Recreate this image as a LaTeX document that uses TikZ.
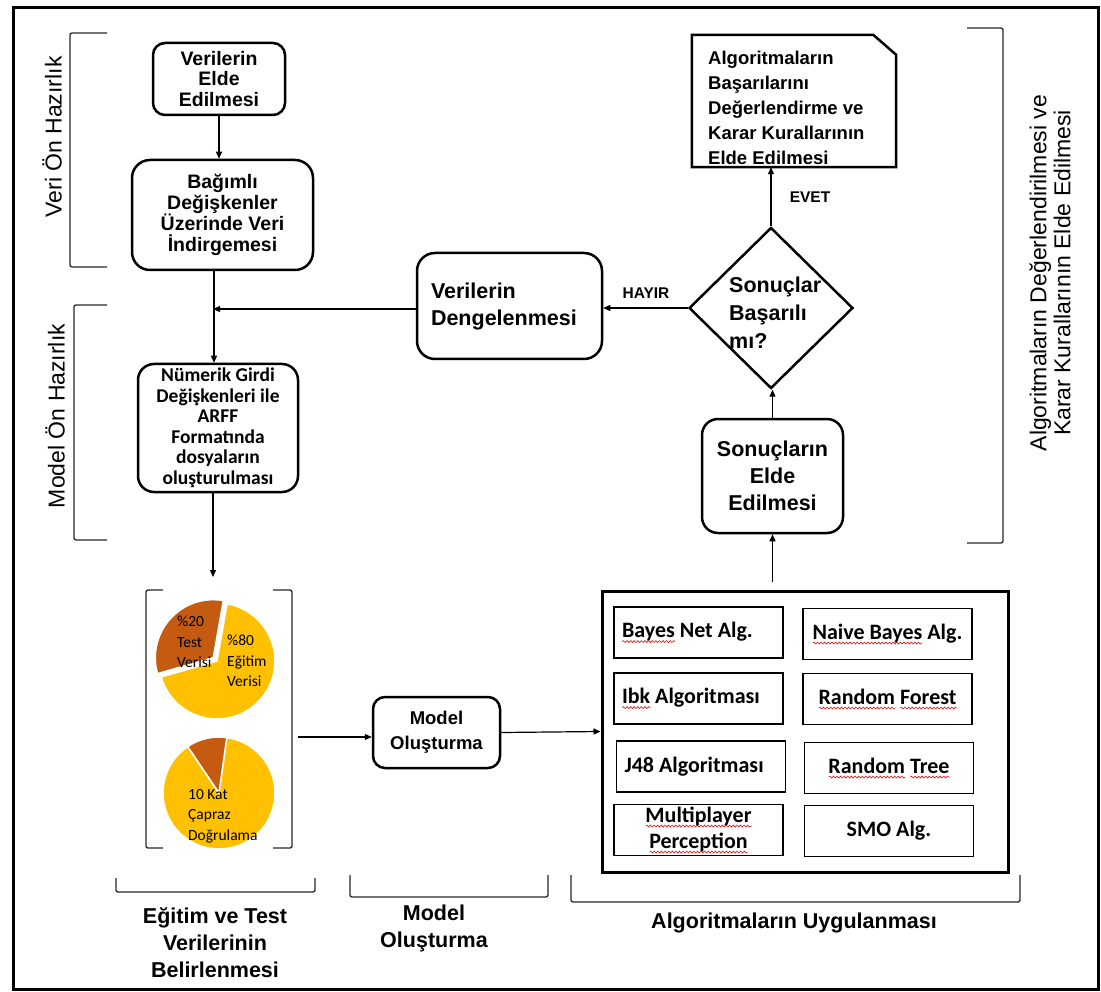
\documentclass[tikz,border=0pt]{standalone}
\usepackage{fontspec}
\setmainfont{Liberation Sans}
\newfontfamily\calfont{Carlito}
\usetikzlibrary{arrows.meta,shapes.geometric,decorations.pathmorphing}

% red spell-check squiggle under a word
\newlength\sqlen
\newcommand\squig[1]{\settowidth\sqlen{#1}\rlap{#1}\rlap{\tikz[baseline=0pt]\draw[red!85!black,line width=0.55pt,decorate,decoration={snake,amplitude=1pt,segment length=3.6pt}] (0pt,-4pt) -- (\sqlen,-4pt);}\kern\sqlen}

\definecolor{piebrown}{HTML}{C55A11}
\definecolor{pieyellow}{HTML}{FFC000}

\tikzset{
  rbox/.style={draw, line width=2.5pt, rounded corners=14pt, align=center, inner sep=2pt},
  arr/.style={-{Triangle[length=7pt,width=6pt]}, line width=1.2pt},
  brk/.style={line width=1.3pt, black!85, rounded corners=2pt},
  cell/.style={draw, line width=1.6pt, minimum width=169, minimum height=51, inner sep=0pt,
    font=\calfont\bfseries\fontsize{22}{26}\selectfont, align=center},
  lcell/.style={cell, text width=153, inner xsep=8pt, align=flush left},
  fBox/.style={font=\bfseries\fontsize{19.5}{20.8}\selectfont},
  fBig/.style={font=\bfseries\fontsize{21.5}{27}\selectfont},
  fSide/.style={font=\fontsize{23}{24}\selectfont},
  fLab/.style={font=\bfseries\fontsize{21.5}{27}\selectfont, align=center},
  fTag/.style={font=\bfseries\fontsize{15.5}{18}\selectfont},
  fPie/.style={font=\calfont\fontsize{15.5}{20.5}\selectfont, align=flush left, inner sep=0pt, anchor=west},
}

\begin{document}
\begin{tikzpicture}[x=1pt,y=-1pt]
\useasboundingbox (0,0) rectangle (1101,992);

% outer frame
\draw[line width=3pt] (13,8) rectangle (1098,989);

% ---------- left column ----------
\node[rbox, fBox, minimum width=132, minimum height=72, rounded corners=12pt] (v1) at (219,79)
  {Verilerin\\Elde\\Edilmesi};
\node[rbox, fBox, minimum width=181, minimum height=110, rounded corners=18pt] (v2) at (222.5,215)
  {Bağımlı\\Değişkenler\\Üzerinde Veri\\İndirgemesi};
\node[rbox, minimum width=160, minimum height=128, rounded corners=16pt,
  font=\calfont\bfseries\fontsize{19.5}{20.5}\selectfont] (v3) at (218,428)
  {Nümerik Girdi\\Değişkenleri ile\\ARFF\\Formatında\\dosyaların\\oluşturulması};

% side labels and brackets
\node[fSide, rotate=90] (lveri) at (52,137) {Veri Ön Hazırlık};
\node[fSide, rotate=90] (lmodel) at (55,416) {Model Ön Hazırlık};
\draw[brk] (107,33) -- (70,33) -- (70,267) -- (107,267);
\draw[brk] (107,305) -- (74,305) -- (74,540) -- (107,540);

% ---------- middle / right flow ----------
\node[rbox, fBig, minimum width=185, minimum height=106, text width=157, align=flush left, inner xsep=14pt, rounded corners=18pt] (bal) at (509.5,306)
  {Verilerin\\Dengelenmesi};

\node[diamond, draw, line width=2.5pt, minimum width=164, minimum height=161, inner sep=0pt] (dia) at (771,308) {};
\node[align=flush left, anchor=west, inner sep=0pt, font=\bfseries\fontsize{21.5}{28}\selectfont] (diat) at (729,313)
  {Sonuçlar\\Başarılı\\mı?};

\node[rbox, fBig, minimum width=141, minimum height=114, rounded corners=16pt] (son) at (772.5,476)
  {Sonuçların\\Elde\\Edilmesi};

% document shape with a cut corner
\node[minimum width=204, minimum height=132, inner sep=0pt] (doc) at (794,101) {};
\draw[line width=2.5pt] (doc.south west) -- (doc.north west) -- ([xshift=-23pt]doc.north east)
  -- ([yshift=-20pt]doc.north east) -- (doc.south east) -- cycle;
\node[font=\bfseries\fontsize{18.5}{25}\selectfont, align=flush left, anchor=west, inner sep=0pt, text width=185] (doct) at (708,108)
  {Algoritmaların\\Başarılarını\\Değerlendirme ve\\Karar Kurallarının\\Elde Edilmesi};

\node[fSide, rotate=90, align=center] (lalg) at (1050,273)
  {Algoritmaların Değerlendirilmesi ve\\Karar Kurallarının Elde Edilmesi};
\draw[brk] (967,28) -- (1003,28) -- (1003,543) -- (967,543);

% ---------- train / test split ----------
\draw[brk] (163,590) -- (146,590) -- (146,848) -- (163,848);
\draw[brk] (273,590) -- (292,590) -- (292,848) -- (273,848);

% hold-out pie
\fill[pieyellow, draw=white, line width=1.5pt] (217,661) -- +(-196:58) arc[start angle=-196, end angle=-440, radius=58] -- cycle;
\fill[piebrown, draw=white, line width=1.5pt] ([shift={(-138:5)}]217,661) -- +(-80:58) arc[start angle=-80, end angle=-196, radius=58] -- cycle;
\node[fPie] (p20) at (177,642) {\%20\\Test\\Verisi};
\node[fPie] (p80) at (227,661) {\%80\\Eğitim\\Verisi};

% cross-validation pie
\fill[pieyellow, draw=white, line width=1.5pt] (219,793) -- +(-124:56) arc[start angle=-124, end angle=-442, radius=56] -- cycle;
\fill[piebrown, draw=white, line width=1.5pt] (219,793) -- +(-82:56) arc[start angle=-82, end angle=-124, radius=56] -- cycle;
\node[fPie] (pcv) at (188,816) {10 Kat\\Çapraz\\Doğrulama};

% ---------- model ----------
\node[rbox, minimum width=127, minimum height=71, rounded corners=12pt,
  font=\bfseries\fontsize{18.5}{25}\selectfont] (model) at (436.5,732.5) {Model\\Oluşturma};

% ---------- algorithms ----------
\node[draw, line width=3pt, minimum width=406, minimum height=281, inner sep=0pt] (alg) at (805,731.5) {};
\node[lcell] (c1) at (698.5,632.5) {\squig{Bayes} Net Alg.};
\node[cell] (c2) at (887.5,634) {\squig{Naive Bayes} Alg.};
\node[lcell] (c3) at (698.5,698.5) {\squig{Ibk} Algoritması};
\node[cell] (c4) at (887.5,699) {\squig{Random} \squig{Forest}};
\node[lcell] (c5) at (701,766.5) {J48 Algoritması};
\node[cell] (c6) at (889,768) {\squig{Random} \squig{Tree}};
\node[cell] (c7) at (698.5,830) {\squig{Multiplayer}\\\squig{Perception}};
\node[cell] (c8) at (889,831) {SMO Alg.};

% ---------- bottom phase labels ----------
\draw[brk] (116,878) -- (116,892) -- (315,892) -- (315,878);
\draw[brk] (350,875) -- (350,897) -- (548,897) -- (548,875);
\draw[brk] (571,875) -- (571,902) -- (1020,902) -- (1020,875);
\node[fLab] (lb1) at (215,943) {Eğitim ve Test\\Verilerinin\\Belirlenmesi};
\node[fLab] (lb2) at (434,928) {Model\\Oluşturma};
\node[fLab] (lb3) at (794,923) {Algoritmaların Uygulanması};

% ---------- connectors ----------
\coordinate (jn) at (214,309);
\coordinate (pin) at (213,577);
\coordinate (pout) at (298,737);
\draw[arr] (v1.south) -- (v1.south |- v2.north);
\draw[arr] (v2.south -| jn) -- (v3.north -| jn);
\draw[arr, shorten >=-1pt] (bal.west |- jn) -- (jn);
\draw[arr] (v3.south -| pin) -- (pin);
\draw[arr] (pout) -- (model.west |- pout);
\draw[arr] (model.east) -- (alg.west);
\draw[arr, shorten <=8pt] (alg.north -| son) -- (son.south);
\draw[arr] (son.north) -- (son.north |- dia.south);
\draw[arr] (dia.north) -- (dia.north |- doc.south);
\draw[arr] (dia.west) -- (bal.east |- dia.west);
\node[fTag] (evet) at (810,197) {EVET};
\node[fTag] (hayir) at (646,293) {HAYIR};

\end{tikzpicture}
\end{document}
